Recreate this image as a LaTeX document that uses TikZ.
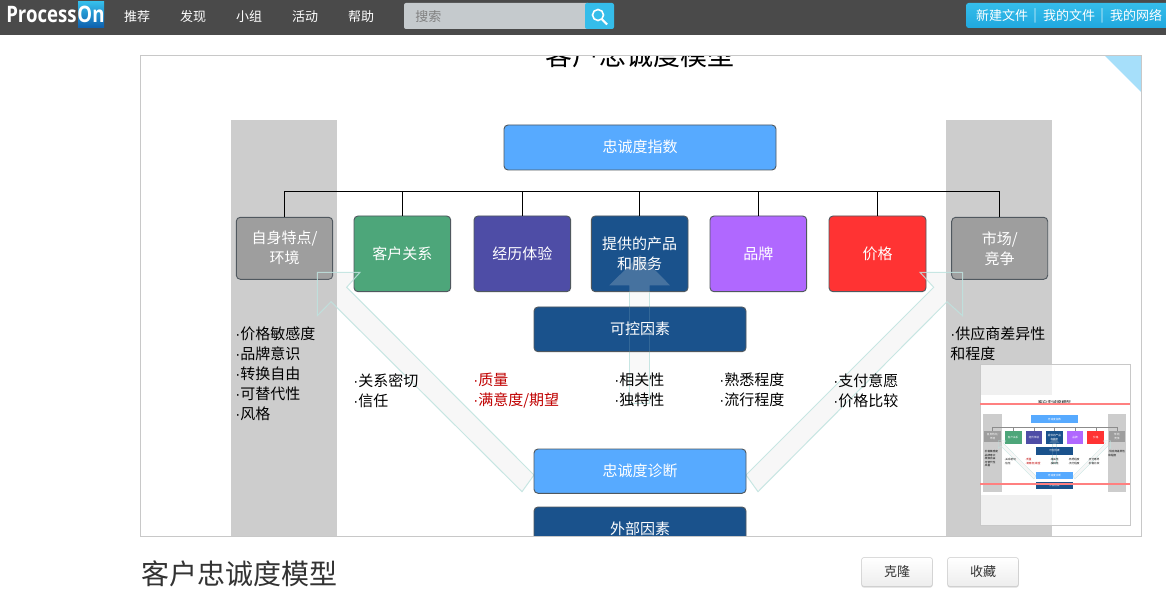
\documentclass[tikz,border=0pt]{standalone}
\usepackage{fontspec}
\setmainfont{Noto Sans CJK SC}
\newfontfamily\logofont{Open Sans}
\newfontfamily\dotfont{Liberation Sans}
\definecolor{topbar}{HTML}{4A4A4A}
\definecolor{searchbg}{HTML}{C5CACD}
\definecolor{skyA}{HTML}{35BDEA}
\definecolor{skyB}{HTML}{20A8DF}
\definecolor{onbottom}{HTML}{0E60AE}
\definecolor{canvasline}{HTML}{C8C8C8}
\definecolor{corner}{HTML}{A6DFFA}
\definecolor{column}{HTML}{CDCDCD}
\definecolor{lightblue}{HTML}{57AAFF}
\definecolor{navy}{HTML}{1A528C}
\definecolor{greyb}{HTML}{9E9E9E}
\definecolor{greenb}{HTML}{4DA67A}
\definecolor{indigob}{HTML}{4E4DA6}
\definecolor{purpleb}{HTML}{B068FF}
\definecolor{redb}{HTML}{FF3333}
\definecolor{edgeb}{HTML}{50585F}
\definecolor{arrowline}{HTML}{BFE3DF}
\definecolor{arrowfill}{HTML}{E6E6E6}
\definecolor{sidefill}{HTML}{B8B8B8}
\definecolor{darkred}{HTML}{C00000}
\definecolor{pinkline}{HTML}{FF8080}
\definecolor{titlegrey}{HTML}{333333}
\newcommand{\dt}{{\dotfont ·}}
\newcommand{\up}[1]{\raisebox{1.5pt}{#1}}
\tikzset{
  bx/.style={draw=edgeb,line width=.7pt,rounded corners=3pt,text=white,align=center,inner sep=0pt,
    font=\fontsize{11.25}{15}\selectfont},
  wire/.style={draw=black,line width=.85pt},
  ghost/.style={draw=arrowline,fill=sidefill,fill opacity=.1,draw opacity=.85,line width=.75pt},
  ghostfill/.style={fill=arrowfill,fill opacity=.22},
  ghostedge/.style={draw=arrowline,draw opacity=.85,line width=.75pt},
  ghostfaint/.style={draw=arrowline,draw opacity=.15,line width=.75pt},
  listing/.style={anchor=north west,align=left,inner sep=0pt,text=black,
    font=\fontsize{11.25}{15}\selectfont},
  navtext/.style={text=white,inner sep=0pt,font=\fontsize{9.75}{12}\selectfont},
  logotext/.style={text=white,inner sep=0pt,font=\logofont\bfseries\fontsize{17}{20}\selectfont},
  btn/.style={draw=canvasline,top color=white,bottom color=black!7,rounded corners=1.5pt,inner sep=0pt,text=titlegrey,
    minimum width=53pt,minimum height=21.5pt,font=\fontsize{9.75}{12}\selectfont}
}
\newcommand{\pbox}[7]{%
  \pgfmathsetmacro\bw{(#4-#2)*0.75}%
  \pgfmathsetmacro\bh{(#5-#3)*0.75}%
  \node[bx,fill=#6,minimum width=\bw pt,minimum height=\bh pt] (#1) at ({(#2+#4)/2},{(#3+#5)/2}) {#7};}
\newcommand{\drawdiagram}{%
  \fill[column] (231,120) rectangle (337,565);
  \fill[column] (946,120) rectangle (1052,565);
  \node[text=black,inner sep=0pt,font=\fontsize{20.25}{24}\selectfont] (title) at (640,55) {客户忠诚度模型};
  \pbox{top}{504}{125}{776}{170}{lightblue}{\up{忠诚度指数}}
  \pbox{self}{236.3}{217.3}{332.7}{279.3}{greyb}{自身特点/\\环境}
  \pbox{rel}{354}{216}{450.7}{291.7}{greenb}{\up{客户关系}}
  \pbox{exp}{474}{216}{570.7}{291.7}{indigob}{\up{经历体验}}
  \pbox{prod}{591.3}{216}{688}{291.7}{navy}{提供的产品\\和服务}
  \pbox{brand}{710}{216}{806.7}{291.7}{purpleb}{\up{品牌}}
  \pbox{price}{829}{216}{926}{291.7}{redb}{\up{价格}}
  \pbox{market}{951.7}{217.3}{1047.7}{279.3}{greyb}{市场/\\竞争}
  \coordinate (bus) at (640,191.5);
  \foreach \b in {self,rel,exp,prod,brand,price,market}{\draw[wire] (bus) -| (\b.north);}
  \draw[ghost] (522,491.7) -- (331,301.7) -- (317.3,315.7) -- (317.3,272.3) -- (360,272.3) -- (346.7,287.3) -- (534,475) -- cycle;
  \draw[ghost] (758,491.7) -- (947,301.7) -- (962.5,315.7) -- (962.5,272.3) -- (920,272.3) -- (933.7,287.3) -- (746,475) -- cycle;
  \fill[ghostfill] (629.3,403) -- (629.3,285.3) -- (609.3,285.3) -- (640,255) -- (670,285.3) -- (649.7,285.3) -- (649.7,403) -- cycle;
  \draw[ghostedge] (629.3,291.7) -- (629.3,403) -- (649.7,403) -- (649.7,291.7);
  \pbox{ctrl}{534}{307}{746}{351.7}{navy}{\up{可控因素}}
  \draw[ghostfaint] (629.3,307) -- (629.3,351.7);
  \draw[ghostfaint] (649.7,307) -- (649.7,351.7);
  \pbox{diag}{534}{449}{746}{493.3}{lightblue}{\up{忠诚度诊断}}
  \pbox{ext}{534}{507}{746}{552}{navy}{\up{外部因素}}
  \node[listing] (l1) at (235,327) {\dt 价格敏感度\\\dt 品牌意识\\\dt 转换自由\\\dt 可替代性\\\dt 风格};
  \node[listing] (l2) at (353,373) {\dt 关系密切\\\dt 信任};
  \node[listing,text=darkred] (l3) at (473,373) {\dt 质量\\\dt 满意度/期望};
  \node[listing] (l4) at (614,373) {\dt 相关性\\\dt 独特性};
  \node[listing] (l5) at (719,373) {\dt 熟悉程度\\\dt 流行程度};
  \node[listing] (l6) at (833,373) {\dt 支付意愿\\\dt 价格比较};
  \node[listing] (l7) at (950,327) {\dt 供应商差异性\\和程度};
}
\begin{document}
\begin{tikzpicture}[x=.75pt,y=-.75pt]
  \useasboundingbox (0,0) rectangle (1166,591);
  \fill[white] (0,0) rectangle (1166,591);
  % top bar
  \fill[topbar] (0,0) rectangle (1166,35);
  \path[top color=skyA,bottom color=onbottom] (78,2) rectangle (104,27.5);
  \node[logotext,anchor=west] (logoA) at (6,14.5) {\scalebox{.82}[1]{Process}};
  \node[logotext] (logoB) at (91,14.5) {\scalebox{.82}[1]{On}};
  \node[navtext] (n1) at (137,17) {推荐};
  \node[navtext] (n2) at (193,17) {发现};
  \node[navtext] (n3) at (249,17) {小组};
  \node[navtext] (n4) at (305,17) {活动};
  \node[navtext] (n5) at (361,17) {帮助};
  \fill[searchbg,rounded corners=1.5pt] (404,3) rectangle (590,29);
  \node[navtext,anchor=west,text=black!50] (srch) at (415,17) {搜索};
  \fill[skyA,rounded corners=1.5pt] (585,3) rectangle (614,29);
  \draw[white,line width=1.2pt] (598,15) circle (5.5);
  \draw[white,line width=1.6pt] (602,19.5) -- (607,24.5);
  \path[top color=skyA,bottom color=skyB,rounded corners=2pt] (966,3) rectangle (1172,28);
  \node[navtext] (m1) at (1002,16) {新建文件};
  \node[navtext,text=white!70!skyA] (s1) at (1035,16) {|};
  \node[navtext] (m2) at (1069,16) {我的文件};
  \node[navtext,text=white!70!skyA] (s2) at (1102,16) {|};
  \node[navtext] (m3) at (1136,16) {我的网络};
  % canvas
  \begin{scope}
    \clip (141,56) rectangle (1141,536);
    \drawdiagram
    \fill[corner] (1105,56) -- (1141,56) -- (1141,92) -- cycle;
  \end{scope}
  \draw[canvasline,line width=.7pt] (140.5,55.5) rectangle (1141.5,536.5);
  % thumbnail
  \fill[white,opacity=.7] (980,364) rectangle (1130,395);
  \fill[white,opacity=.7] (980,495) rectangle (1130,525);
  \fill[white] (980,395) rectangle (1130,495);
  \begin{scope}
    \clip (980,395) rectangle (1130,495);
    \begin{scope}[shift={(983.3,414.3)},xshift={-231*.174*.75pt},yshift={120*.174*.75pt},scale=.174,transform shape,name prefix=mini-]
      \tikzset{bx/.append style={draw=none,rounded corners=0pt},
        wire/.append style={line width=.2pt,draw=black!45},
        ghost/.append style={line width=.25pt},
        ghostedge/.append style={line width=.25pt},
        ghostfaint/.append style={line width=.2pt}}
      \drawdiagram
    \end{scope}
  \end{scope}
  \draw[canvasline,line width=.7pt] (980,364.5) rectangle (1130.5,525.5);
  \draw[pinkline,line width=1.1pt] (980,404) -- (1130,404);
  \draw[pinkline,line width=1.1pt] (980,484) -- (1130,484);
  % footer
  \node[anchor=west,inner sep=0pt,text=titlegrey,font=\fontsize{21}{26}\selectfont] (name) at (141,574) {客户忠诚度模型};
  \fill[black!14,rounded corners=1.5pt] (861.5,559) rectangle (932.5,587.5);
  \fill[black!14,rounded corners=1.5pt] (947.5,559) rectangle (1018.5,587.5);
  \node[btn] (clone) at (897,572) {克隆};
  \node[btn] (fav) at (983,572) {收藏};
\end{tikzpicture}
\end{document}
